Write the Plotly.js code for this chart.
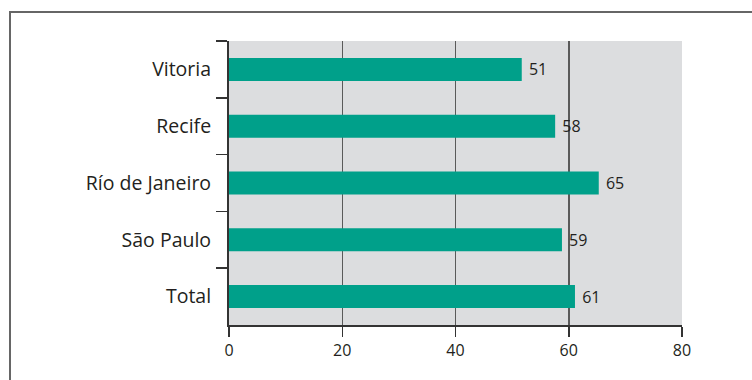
<!DOCTYPE html>
<html>
<head>
<meta charset="utf-8">
<script src="https://cdn.plot.ly/plotly-3.0.1.min.js"></script>
<style>
  html, body { margin: 0; padding: 0; background: #fff; }
  #frame { position: absolute; left: 9px; top: 11px; width: 760px; height: 400px;
           border-left: 2px solid #666; border-top: 2px solid #666; pointer-events: none; }
  #chart { position: absolute; left: 0; top: 0; width: 752px; height: 380px; }
</style>
</head>
<body>
<div id="chart"></div>
<div id="frame"></div>
<script>
// Data (top to bottom)
const categories = ["Vitoria", "Recife", "Río de Janeiro", "São Paulo", "Total"];
const values = [51.7, 57.6, 65.3, 58.8, 61.1];
const valueLabels = ["51", "58", "65", "59", "61"];
const xTicks = [0, 20, 40, 60, 80];

const font = "'Open Sans', 'Noto Sans', sans-serif";
const textColor = "#231f20";

const trace = {
  type: "bar",
  orientation: "h",
  y: categories,
  x: values,
  text: valueLabels,
  texttemplate: "\u00a0%{text}",
  textposition: "outside",
  textfont: { family: font, size: 16, color: textColor },
  cliponaxis: false,
  marker: { color: "#00a08a", line: { width: 0 } },
  hoverinfo: "skip"
};

const layout = {
  width: 752, height: 380,
  margin: { l: 229, r: 70, t: 41, b: 55 },
  paper_bgcolor: "#ffffff",
  plot_bgcolor: "#dcdddf",
  showlegend: false,
  bargap: 0.595,
  font: { family: font, color: textColor },
  xaxis: {
    range: [0, 80],
    tickvals: xTicks,
    ticktext: xTicks.map(String),
    ticks: "outside", ticklen: 10, tickwidth: 1.5, tickcolor: "#333",
    showgrid: true, gridcolor: "#5a5a5a", gridwidth: 1.5,
    showline: true, linecolor: "#333", linewidth: 2,
    zeroline: false,
    tickfont: { family: font, size: 16, color: textColor },
    fixedrange: true
  },
  yaxis: {
    type: "category",
    categoryorder: "array",
    categoryarray: categories,
    autorange: "reversed",
    tickson: "boundaries",
    ticks: "outside", ticklen: 11, tickwidth: 1.5, tickcolor: "#333",
    ticklabelstandoff: 12,
    showgrid: false,
    showline: true, linecolor: "#333", linewidth: 2,
    tickfont: { family: font, size: 19.5, color: textColor },
    fixedrange: true
  }
};

Plotly.newPlot("chart", [trace], layout, { displayModeBar: false, staticPlot: true });
</script>
</body>
</html>
